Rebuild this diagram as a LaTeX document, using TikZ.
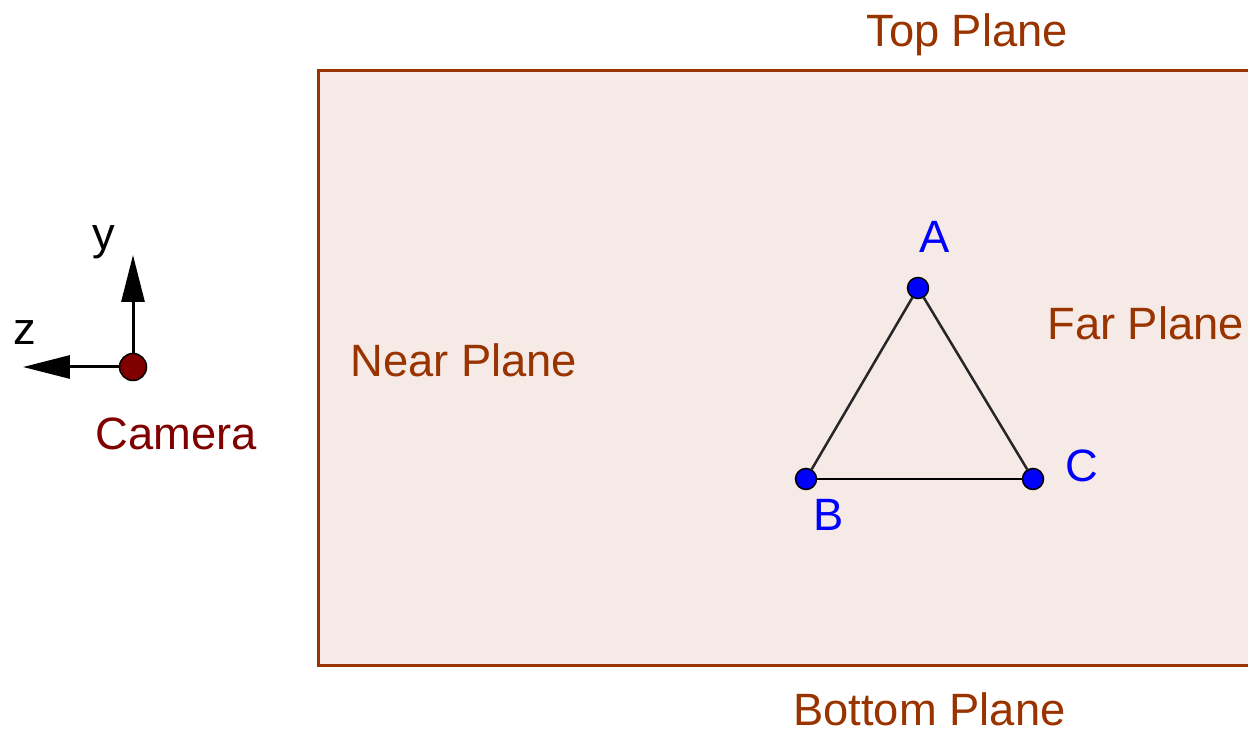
\documentclass[tikz,border=0pt]{standalone}
\usepackage{fontspec}
\setmainfont{Liberation Sans}
\usetikzlibrary{arrows.meta}
\definecolor{planebrown}{RGB}{153,51,0}
\definecolor{planefill}{RGB}{245,234,230}
\definecolor{camred}{RGB}{128,0,0}
\begin{document}
\begin{tikzpicture}[x=0.02cm, y=-0.02cm,
		lbl/.style={inner sep=0pt, anchor=base west, font=\fontsize{25.8}{30}\selectfont},
		planelbl/.style={lbl, text=planebrown},
		ptlbl/.style={lbl, text=blue},
		pt/.style={circle, draw=black, fill=blue, line width=0.03cm, inner sep=0pt, minimum size=0.42cm},
		campt/.style={circle, draw=black, fill=camred, line width=0.03cm, inner sep=0pt, minimum size=0.54cm},
		axis/.style={line width=0.06cm, -{Triangle[length=0.94cm, width=0.46cm]}},
		edge/.style={line width=0.05cm, black!85}]
	\useasboundingbox (0,0) rectangle (1248,729);
	% frustum seen from the side
	\fill[planefill] (318,71) rectangle (1248,665);
	\draw[planebrown, line width=0.06cm] (1248,71) -- (318,71) -- (318,665) -- (1248,665);
	\node[planelbl] (top) at (866,47) {Top Plane};
	\node[planelbl] (near) at (350,377) {Near Plane};
	\node[planelbl] (far) at (1047,340) {Far Plane};
	\node[planelbl] (bottom) at (793,725) {Bottom Plane};
	% camera and its axes
	\node[campt] (cam) at (133,367) {};
	\coordinate (ytip) at (133,255);
	\coordinate (ztip) at (23,367);
	\draw[axis] (cam) -- (ytip);
	\draw[axis] (cam) -- (ztip);
	\node[lbl] (ylbl) at (92,250) {y};
	\node[lbl] (zlbl) at (13,345) {z};
	\node[lbl, text=camred] (camlbl) at (95,450) {Camera};
	% triangle
	\node[pt] (A) at (918,288) {};
	\node[pt] (B) at (806,479) {};
	\node[pt] (C) at (1033,479) {};
	\draw[edge] (A) -- (B);
	\draw[edge] (A) -- (C);
	\draw[line width=0.05cm] (B) -- (C);
	\node[ptlbl] (Albl) at (919,253) {A};
	\node[ptlbl] (Blbl) at (813,530) {B};
	\node[ptlbl] (Clbl) at (1065,481) {C};
\end{tikzpicture}
\end{document}
